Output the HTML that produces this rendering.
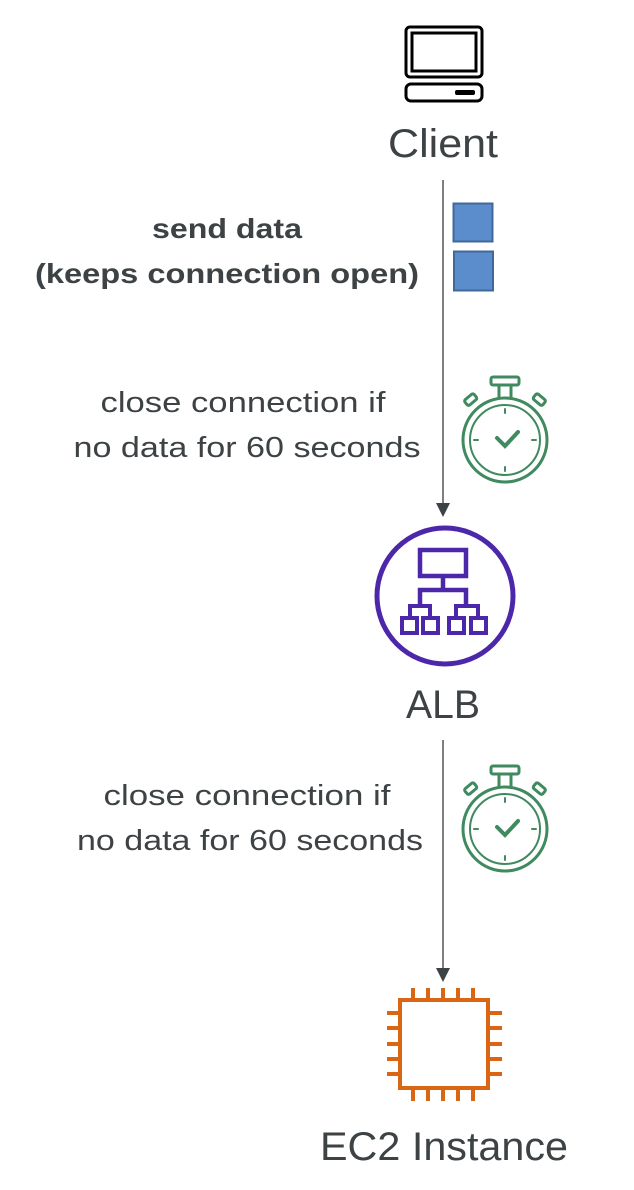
<!DOCTYPE html>
<html><head><style>html,body{margin:0;padding:0;background:#fff}svg{display:block}</style></head>
<body>
<svg width="634" height="1190" viewBox="0 0 634 1190" xmlns="http://www.w3.org/2000/svg" font-family="Liberation Sans, sans-serif" fill="#3d4245">
<!-- monitor -->
<rect x="406" y="27" width="76" height="50" rx="4" fill="none" stroke="#000" stroke-width="3"/>
<rect x="412" y="33" width="64" height="38" fill="none" stroke="#000" stroke-width="3"/>
<rect x="406" y="84" width="76" height="17" rx="5" fill="none" stroke="#000" stroke-width="3"/>
<rect x="455" y="90" width="20" height="5" rx="2" fill="#000"/>
<text x="443" y="157" font-size="40" text-anchor="middle" textLength="110" lengthAdjust="spacingAndGlyphs">Client</text>
<!-- line 1 -->
<line x1="443" y1="180" x2="443" y2="505" stroke="#555" stroke-width="1.5"/>
<polygon points="436,503 450,503 443,517" fill="#3d4245"/>
<rect x="453.5" y="203.5" width="39" height="38" fill="#5b8ccc" stroke="#41689b" stroke-width="2"/>
<rect x="454" y="251.5" width="39" height="39" fill="#5b8ccc" stroke="#41689b" stroke-width="2"/>
<text x="227" y="238" font-size="28" font-weight="bold" text-anchor="middle" textLength="150" lengthAdjust="spacingAndGlyphs">send data</text>
<text x="227" y="283" font-size="28" font-weight="bold" text-anchor="middle" textLength="384" lengthAdjust="spacingAndGlyphs">(keeps connection open)</text>
<text x="243" y="412" font-size="29" text-anchor="middle" textLength="285" lengthAdjust="spacingAndGlyphs">close connection if</text>
<text x="247" y="457" font-size="29" text-anchor="middle" textLength="347" lengthAdjust="spacingAndGlyphs">no data for 60 seconds</text>
<!-- stopwatches -->
<g fill="none" stroke="#3f8a5e" stroke-width="3" stroke-linecap="round">
<g transform="translate(505,440)">
<circle r="42"/><circle r="35" stroke-width="2"/>
<rect x="-14" y="-63" width="28" height="8" rx="2"/>
<line x1="-6" y1="-55" x2="-6" y2="-43"/><line x1="6" y1="-55" x2="6" y2="-43"/>
<rect x="-40" y="-44" width="12" height="7" rx="2" transform="rotate(-40 -34 -40)"/>
<rect x="28" y="-44" width="12" height="7" rx="2" transform="rotate(40 34 -40)"/>
<line x1="0" y1="-31" x2="0" y2="-27" stroke-width="2"/><line x1="0" y1="27" x2="0" y2="31" stroke-width="2"/>
<line x1="-31" y1="0" x2="-27" y2="0" stroke-width="2"/><line x1="27" y1="0" x2="31" y2="0" stroke-width="2"/>
<polyline points="-8,-2 0,6 13,-8" stroke-width="4"/>
</g>
<g transform="translate(505,829)">
<circle r="42"/><circle r="35" stroke-width="2"/>
<rect x="-14" y="-63" width="28" height="8" rx="2"/>
<line x1="-6" y1="-55" x2="-6" y2="-43"/><line x1="6" y1="-55" x2="6" y2="-43"/>
<rect x="-40" y="-44" width="12" height="7" rx="2" transform="rotate(-40 -34 -40)"/>
<rect x="28" y="-44" width="12" height="7" rx="2" transform="rotate(40 34 -40)"/>
<line x1="0" y1="-31" x2="0" y2="-27" stroke-width="2"/><line x1="0" y1="27" x2="0" y2="31" stroke-width="2"/>
<line x1="-31" y1="0" x2="-27" y2="0" stroke-width="2"/><line x1="27" y1="0" x2="31" y2="0" stroke-width="2"/>
<polyline points="-8,-2 0,6 13,-8" stroke-width="4"/>
</g>
</g>
<!-- ALB -->
<g fill="none" stroke="#4d27aa" stroke-width="5">
<circle cx="445" cy="596" r="68"/>
<rect x="420" y="550" width="46" height="26" stroke-width="4.5"/>
<line x1="443" y1="576" x2="443" y2="590" stroke-width="4.5"/>
<polyline points="420,606 420,590 466,590 466,606" stroke-width="4.5"/>
<polyline points="410,617 410,606 430,606 430,617" stroke-width="4"/>
<polyline points="456,617 456,606 478,606 478,617" stroke-width="4"/>
<rect x="402" y="618" width="15" height="15" stroke-width="4"/>
<rect x="423" y="618" width="15" height="15" stroke-width="4"/>
<rect x="449" y="618" width="15" height="15" stroke-width="4"/>
<rect x="471" y="618" width="15" height="15" stroke-width="4"/>
</g>
<text x="443" y="718" font-size="40" text-anchor="middle" textLength="74" lengthAdjust="spacingAndGlyphs">ALB</text>
<!-- line 2 -->
<line x1="443" y1="740" x2="443" y2="970" stroke="#555" stroke-width="1.5"/>
<polygon points="436,968 450,968 443,982" fill="#3d4245"/>
<text x="247" y="805" font-size="29" text-anchor="middle" textLength="287" lengthAdjust="spacingAndGlyphs">close connection if</text>
<text x="250" y="850" font-size="29" text-anchor="middle" textLength="346" lengthAdjust="spacingAndGlyphs">no data for 60 seconds</text>
<!-- EC2 chip -->
<g fill="none" stroke="#d86613" stroke-width="4">
<rect x="400" y="1000" width="88" height="88"/>
<path d="M413 988v12M428 988v12M443 988v12M458 988v12M473 988v12M413 1088v13M428 1088v13M443 1088v13M458 1088v13M473 1088v13M387 1013h13M387 1028h13M387 1044h13M387 1059h13M387 1074h13M488 1013h14M488 1028h14M488 1044h14M488 1059h14M488 1074h14"/>
</g>
<text x="444" y="1160" font-size="40" text-anchor="middle" textLength="248" lengthAdjust="spacingAndGlyphs">EC2 Instance</text>
</svg>
</body></html>
